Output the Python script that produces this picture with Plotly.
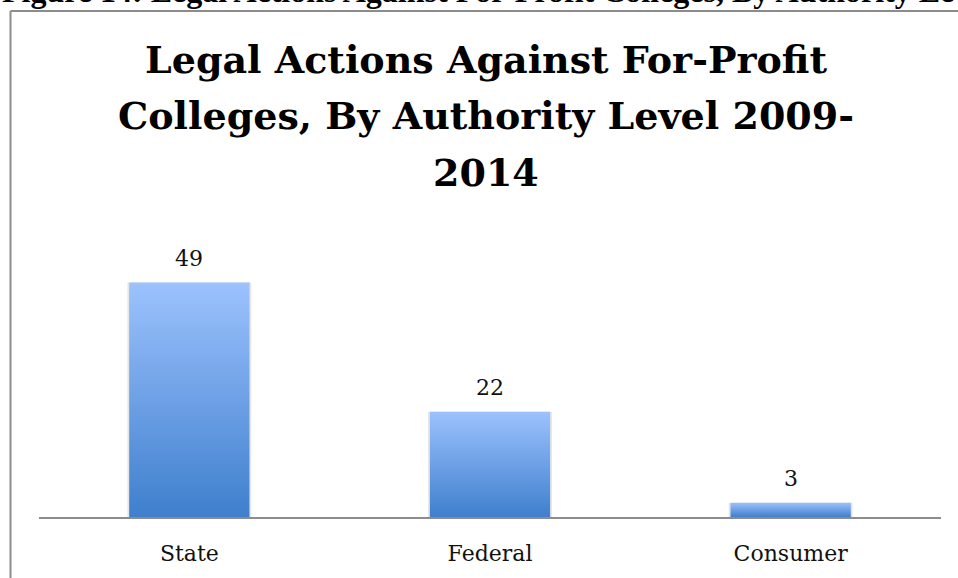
import plotly.graph_objects as go

# ---- data ----
categories = ["State", "Federal", "Consumer"]
values = [49, 22, 3]
caption = "Figure 14: Legal Actions Against For-Profit Colleges, By Authority Level 2009-2014"
title_lines = ["Legal Actions Against For-Profit",
               "Colleges, By Authority Level 2009-",
               "2014"]

# ---- layout geometry (pixels) ----
W, H = 958, 578
ML, MR, MT, MB = 39, 17, 230, 59
YMAX = 60
PW = W - ML - MR
PH = H - MT - MB


def px_x(px):
    return (px - ML) / PW


def px_y(py):
    return (H - MB - py) / PH


BAR_W = 0.40
TOP_C = "#9cc2fd"
BOT_C = "#3f7fcd"

fig = go.Figure()
xs = list(range(len(categories)))

# soft shadow behind bars
fig.add_trace(go.Bar(
    x=xs, y=values, width=BAR_W + 0.012,
    marker=dict(color="rgba(0,0,0,0.10)", line=dict(width=0)),
    hoverinfo="skip", showlegend=False,
))

# gradient-filled bars (one polygon per bar, from the data)
for i, v in zip(xs, values):
    x0, x1 = i - BAR_W / 2, i + BAR_W / 2
    fig.add_trace(go.Scatter(
        x=[x0, x1, x1, x0, x0], y=[0, 0, v, v, 0],
        mode="lines", fill="toself",
        line=dict(width=0, color="rgba(0,0,0,0)"),
        fillgradient=dict(type="vertical",
                          colorscale=[[0, BOT_C], [1, TOP_C]]),
        hoverinfo="skip", showlegend=False,
    ))

# value labels
for i, v in zip(xs, values):
    fig.add_annotation(
        x=i, y=v, xref="x", yref="y", text=str(v), showarrow=False,
        yanchor="bottom", yshift=10,
        font=dict(family="DejaVu Serif", size=22, color="#111111"),
    )

# chart title, one annotation per line
for k, line in enumerate(title_lines):
    fig.add_annotation(
        x=px_x(486), y=px_y(58 + 57 * k), xref="paper", yref="paper",
        text=line, showarrow=False, xanchor="center", yanchor="middle",
        align="center",
        font=dict(family="DejaVu Serif", size=38, color="#000000", weight="bold"),
    )

# figure caption (cut off at top)
fig.add_annotation(
    x=px_x(0), y=px_y(-11), xref="paper", yref="paper",
    text="<b>" + caption + "</b>", showarrow=False, xanchor="left",
    yanchor="middle", align="left",
    font=dict(family="Liberation Serif", size=32, color="#000000"),
)

# frame lines
FX = px_x(10.5)
FY = px_y(9.5)
fig.add_shape(type="line", xref="paper", yref="paper",
              x0=FX, x1=FX, y0=FY, y1=px_y(H + 10),
              line=dict(color="#8c8c8c", width=2))
fig.add_shape(type="line", xref="paper", yref="paper",
              x0=FX, x1=px_x(W + 10), y0=FY, y1=FY,
              line=dict(color="#8c8c8c", width=2))

fig.update_layout(
    width=W, height=H,
    margin=dict(l=ML, r=MR, t=MT, b=MB, pad=0),
    paper_bgcolor="white", plot_bgcolor="white",
    showlegend=False, barmode="overlay",
    xaxis=dict(
        range=[-0.5, 2.5], tickmode="array", tickvals=xs, ticktext=categories,
        showgrid=False, zeroline=False, showline=True,
        linecolor="#8c8c8c", linewidth=1.5, ticks="",
        ticklabelstandoff=16,
        tickfont=dict(family="DejaVu Serif", size=22, color="#111111"),
        fixedrange=True,
    ),
    yaxis=dict(
        range=[0, YMAX], visible=False, showgrid=False, zeroline=False,
        fixedrange=True,
    ),
)

fig.write_html("out.html")
